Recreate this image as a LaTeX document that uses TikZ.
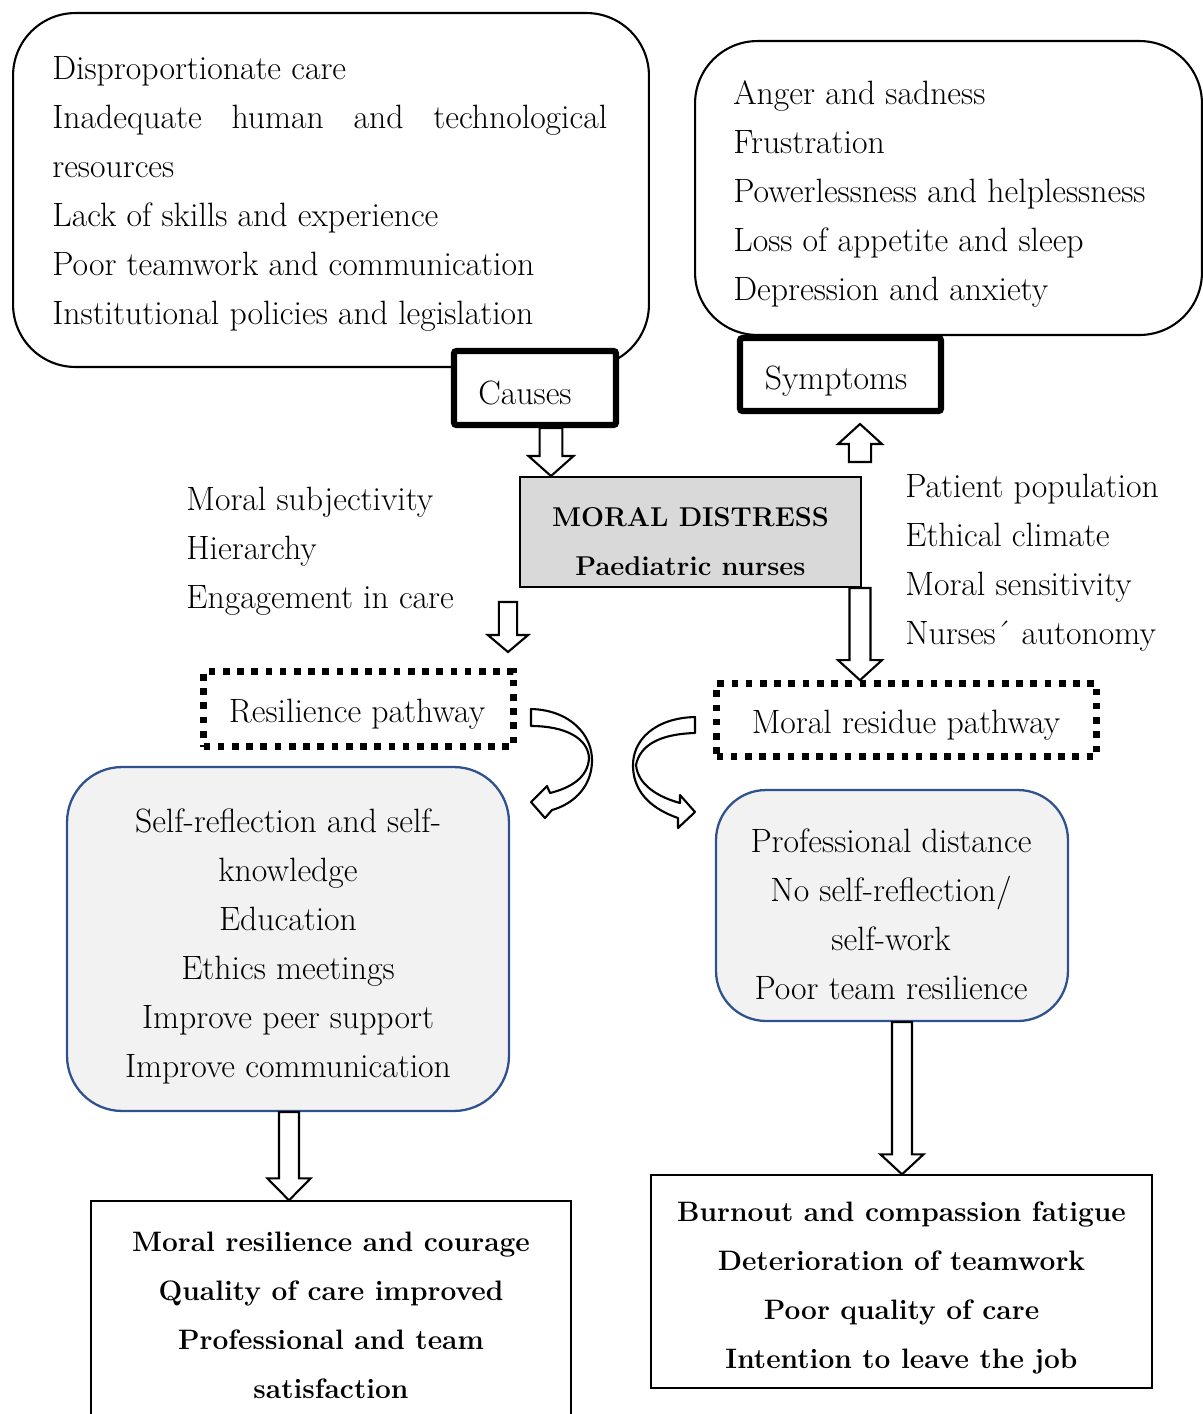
\documentclass[tikz,border=0pt]{standalone}
\usepackage{xcolor}
\usepackage{tikz}
\usetikzlibrary{arrows.meta, positioning, calc}
\definecolor{boxblue}{HTML}{2F528F}
\definecolor{boxgray}{HTML}{F2F2F2}
\definecolor{coregray}{HTML}{D9D9D9}
\newcommand{\bodyfont}{\fontsize{19.2}{27.9}\selectfont}
\newcommand{\boldfont}{\fontsize{16}{27.9}\selectfont\bfseries}
\newcommand{\corefont}{\fontsize{15.5}{27.9}\selectfont\bfseries}
\tikzstyle{listbox} = [rectangle, rounded corners=1.25cm, draw=black, line width=1.2pt]
\tikzstyle{listtext} = [inner sep=0pt, align=left, font=\bodyfont]
\tikzstyle{boxtext} = [inner sep=0pt, align=center, font=\bodyfont]
\tikzstyle{boldtext} = [inner sep=0pt, align=center, font=\boldfont]
\tikzstyle{tag} = [rectangle, draw=black, line width=3.6pt, rounded corners=1.5pt, fill=white]
\tikzstyle{core} = [rectangle, draw=black, line width=1.1pt, fill=coregray]
\tikzstyle{pathway} = [rectangle, draw=black, line width=3.8pt, dash pattern=on 3.8pt off 4.3pt]
\tikzstyle{strategy} = [rectangle, rounded corners=1.1cm, draw=boxblue, line width=1.3pt, fill=boxgray]
\tikzstyle{outcome} = [rectangle, draw=black, line width=0.8pt]
\tikzstyle{blockarrow} = [draw=black, line width=1.2pt, fill=white, line join=miter]
\tikzstyle{curvedarrow} = [draw=black, line width=1.2pt, fill=white, line join=round]
% hollow block arrow: start, tip, shaft half width, head half width, head length
\newcommand{\blockarrow}[5]{%
  \draw[blockarrow] let \p1=(#1), \p2=(#2) in
    (\x1-#3,\y1) -- (\x1-#3,\y2+#5) -- (\x1-#4,\y2+#5) -- (\x1,\y2)
    -- (\x1+#4,\y2+#5) -- (\x1+#3,\y2+#5) -- (\x1+#3,\y1) -- cycle;}

\begin{document}
\begin{tikzpicture}[x=0.02cm, y=-0.02cm]
\useasboundingbox (0,0) rectangle (1203,1414);

% Boxes
\node (causesbox) [listbox, minimum width=12.72cm, minimum height=7.08cm] at (331,190) {};
\node (symbox) [listbox, minimum width=10.14cm, minimum height=5.88cm] at (948.5,188) {};
\node (causes) [tag, minimum width=3.24cm, minimum height=1.48cm] at (535,388) {};
\node (symptoms) [tag, minimum width=4.02cm, minimum height=1.46cm] at (840.5,374.5) {};
\node (distress) [core, minimum width=6.82cm, minimum height=2.2cm] at (690.5,532) {};
\node (resilience) [pathway, minimum width=6.2cm, minimum height=1.5cm] at (358.5,709) {};
\node (residue) [pathway, minimum width=7.6cm, minimum height=1.46cm] at (906.5,720) {};
\node (strategyL) [strategy, minimum width=8.84cm, minimum height=6.88cm] at (288,939) {};
\node (strategyR) [strategy, rounded corners=1cm, minimum width=7.04cm, minimum height=4.62cm] at (892,905.5) {};
\node (outcomeL) [outcome, minimum width=9.6cm, minimum height=4.48cm] at (331,1313) {};
\node (outcomeR) [outcome, minimum width=10.02cm, minimum height=4.26cm] at (901.5,1281.5) {};

% Texts
\node (causeslist) [listtext, anchor=west] at (52,194) {Disproportionate care\\
  \makebox[11.1cm][s]{Inadequate human and technological}\\
  resources\\
  Lack of skills and experience\\
  Poor teamwork and communication\\
  Institutional policies and legislation};
\node (symlist) [listtext, anchor=west] at (733,194) {Anger and sadness\\
  Frustration\\
  Powerlessness and helplessness\\
  Loss of appetite and sleep\\
  Depression and anxiety};
\node (causestext) [boxtext] at (525,393) {Causes};
\node (symptomstext) [boxtext] at (836,381) {Symptoms};
\node (distresstext) [inner sep=0pt, align=center, font=\corefont] at (690.5,542) {MORAL DISTRESS\\ Paediatric nurses};
\node (factorsL) [listtext, anchor=west] at (186,551) {Moral subjectivity\\
  Hierarchy\\
  Engagement in care};
\node (factorsR) [listtext, anchor=west] at (905,562.5) {Patient population\\
  Ethical climate\\
  Moral sensitivity\\
  Nurses´ autonomy};
\node (resiliencetext) [boxtext] at (357,714) {Resilience pathway};
\node (residuetext) [boxtext] at (906,725) {Moral residue pathway};
\node (strategyLtext) [boxtext] at (288,946) {Self-reflection and self-\\
  knowledge\\
  Education\\
  Ethics meetings\\
  Improve peer support\\
  Improve communication};
\node (strategyRtext) [boxtext] at (891,914) {Professional distance\\
  No self-reflection/\\
  self-work\\
  Poor team resilience};
\node (outcomeLtext) [boldtext] at (331,1315) {Moral resilience and courage\\
  Quality of care improved\\
  Professional and team\\
  satisfaction};
\node (outcomeRtext) [boldtext] at (901.5,1288) {Burnout and compassion fatigue\\
  Deterioration of teamwork\\
  Poor quality of care\\
  Intention to leave the job};

% Free ends
\coordinate (symin) at (860,462);
\coordinate (symtip) at (860,424);
\coordinate (factin) at (508,602);
\coordinate (facttip) at (508,652);
\coordinate (resin) at (860,588);

% Paths
\blockarrow{$(causes.south)+(16,0)$}{distress.north}{6.5pt}{12.8pt}{11.4pt}
\blockarrow{symin}{symtip}{6.3pt}{12.5pt}{-11.4pt}
\blockarrow{factin}{facttip}{5.2pt}{11.5pt}{9.7pt}
\blockarrow{resin}{residue.north}{6pt}{12.5pt}{11.4pt}
\blockarrow{$(strategyL.south)+(1,0)$}{outcomeL.north}{5.7pt}{12.3pt}{12.5pt}
\blockarrow{$(strategyR.south)+(10,0)$}{outcomeR.north}{5.7pt}{12.3pt}{11.4pt}

% curved arrows
\draw[curvedarrow] (531,709) .. controls (570,710) and (593,735) .. (592,762)
  .. controls (591,790) and (570,805) .. (552,810)
  -- (545,818) -- (531,802) -- (547,786) -- (550,793)
  .. controls (570,788) and (588,778) .. (589,758)
  .. controls (588,738) and (565,726) .. (531,726) -- cycle;
\draw[curvedarrow] (695,717) .. controls (655,718) and (632,740) .. (633,767)
  .. controls (634,795) and (655,810) .. (678,818)
  -- (678,828) -- (695,812) -- (680,795) -- (680,803)
  .. controls (658,797) and (638,785) .. (636,765)
  .. controls (640,745) and (660,734) .. (695,733) -- cycle;

\end{tikzpicture}
\end{document}
